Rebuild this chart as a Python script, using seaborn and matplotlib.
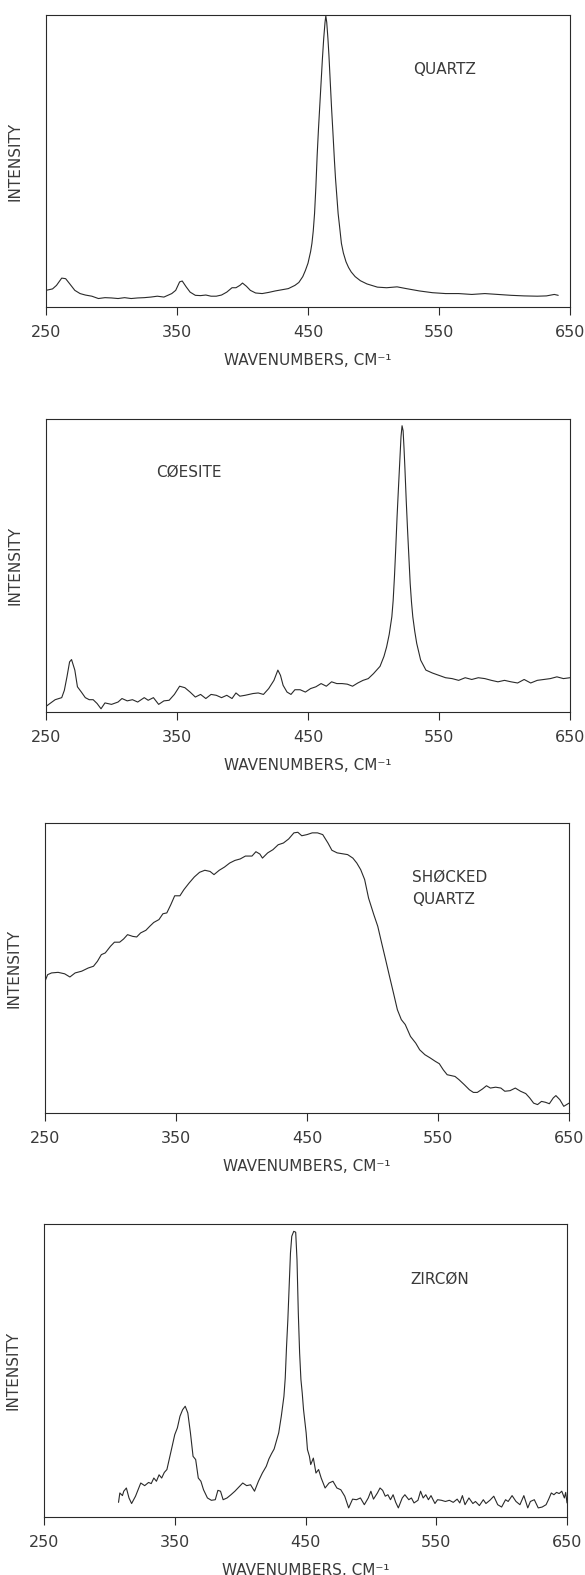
import numpy as np
import pandas as pd
import matplotlib
matplotlib.use("Agg")
import matplotlib.pyplot as plt
import seaborn as sns

# ---------------- data (intensity as fraction of plot height) ----------------
quartz_x = [250,255,258,262,265,268,272,276,280,285,
            290,295,300,305,310,315,320,325,330,335,
            340,343,346,349,352,354,357,360,364,368,
            372,376,380,384,388,392,395,398,400,403,
            406,410,415,420,425,430,435,440,443,446,
            448,450,452,453,454,455,456,457,458,459,
            460,461,462,463,463.6,464.3,465.2,466,467,468,
            469,470.2,471,472,473,474,475.5,477,479,481,
            483,486,490,495,503,510,518,525,535,545,
            555,565,575,585,595,605,615,625,632,638,
            641]
quartz_y = [0.057,0.062,0.074,0.099,0.097,0.080,0.057,0.046,0.041,0.037,
            0.029,0.032,0.031,0.029,0.032,0.029,0.031,0.032,0.034,0.037,
            0.034,0.040,0.046,0.057,0.086,0.089,0.069,0.051,0.040,0.039,
            0.041,0.037,0.037,0.041,0.051,0.066,0.066,0.074,0.082,0.071,
            0.057,0.048,0.046,0.050,0.055,0.059,0.063,0.074,0.084,0.104,
            0.125,0.150,0.190,0.218,0.260,0.320,0.410,0.520,0.610,0.690,
            0.770,0.850,0.920,0.975,0.997,0.975,0.920,0.860,0.770,0.680,
            0.600,0.500,0.440,0.380,0.320,0.280,0.218,0.185,0.155,0.135,
            0.120,0.104,0.090,0.079,0.068,0.066,0.069,0.063,0.055,0.049,
            0.046,0.046,0.043,0.046,0.043,0.040,0.038,0.037,0.038,0.043,
            0.040]

coesite_x = [250,253,257,262,264,266,268,269.5,272,274,
             277,280,283,286,289,292,295,300,305,308,
             312,316,320,325,328,332,336,340,344,348,
             352,356,360,364,368,372,376,380,384,388,
             392,395,398,402,408,412,416,420,424,427,
             429,431,434,437,440,444,448,452,456,460,
             464,468,472,476,480,484,488,492,496,500,
             505,508,510,512,514,515,516,517,518,519,
             520,521,521.8,522.6,523.3,524,525,526,527,528,
             529,530,531.5,533,536,540,
             545,550,555,560,565,570,575,580,585,590,
             595,600,605,610,615,620,625,630,635,640,
             645,650]
coesite_y = [0.019,0.029,0.042,0.049,0.074,0.120,0.171,0.179,0.143,0.086,
             0.068,0.049,0.042,0.042,0.029,0.011,0.031,0.026,0.034,0.046,
             0.038,0.042,0.034,0.049,0.040,0.049,0.026,0.038,0.040,0.060,
             0.088,0.083,0.068,0.051,0.060,0.046,0.060,0.057,0.049,0.057,
             0.046,0.065,0.054,0.057,0.063,0.065,0.060,0.080,0.108,0.143,
             0.125,0.091,0.068,0.060,0.076,0.076,0.068,0.080,0.086,0.097,
             0.088,0.103,0.097,0.097,0.095,0.088,0.099,0.108,0.114,0.131,
             0.156,0.190,0.222,0.265,0.325,0.380,0.462,0.560,0.667,0.760,
             0.850,0.940,0.977,0.960,0.900,0.830,0.720,0.621,0.530,0.439,
             0.375,0.325,0.275,0.234,0.177,0.143,
             0.133,0.125,0.117,0.114,0.108,0.117,0.111,0.117,0.114,0.108,
             0.103,0.108,0.103,0.099,0.111,0.099,0.108,0.111,0.114,0.120,
             0.114,0.117]

shocked_x = [250,252,255,260,265,269,273,278,283,287,
             290,293,296,300,303,307,310,313,317,320,
             323,327,330,333,337,340,343,346,349,353,
             356,360,364,368,372,376,379,383,387,391,
             395,399,403,408,411,414,416,420,424,428,
             432,436,440,443,446,450,454,458,462,466,
             469,473,477,481,485,488,491,494,497,501,
             504,507,510,513,516,519,522,525,529,533,
             536,540,544,548,551,554,557,560,563,566,
             570,574,577,580,584,587,590,594,598,601,
             605,609,613,617,620,623,626,629,632,635,
             638,640,643,646,650]
shocked_y = [0.454,0.477,0.483,0.485,0.480,0.469,0.483,0.489,0.500,0.506,
             0.523,0.546,0.552,0.575,0.589,0.589,0.600,0.615,0.609,0.607,
             0.621,0.630,0.644,0.657,0.667,0.687,0.690,0.718,0.749,0.749,
             0.770,0.793,0.814,0.830,0.837,0.833,0.822,0.837,0.848,0.862,
             0.871,0.876,0.886,0.886,0.901,0.893,0.879,0.897,0.908,0.925,
             0.931,0.945,0.966,0.968,0.956,0.960,0.966,0.966,0.960,0.931,
             0.906,0.897,0.894,0.891,0.879,0.862,0.839,0.805,0.741,0.684,
             0.644,0.586,0.529,0.471,0.414,0.356,0.322,0.305,0.264,0.241,
             0.218,0.201,0.190,0.178,0.170,0.149,0.132,0.129,0.126,0.115,
             0.098,0.080,0.071,0.071,0.083,0.094,0.086,0.089,0.086,0.075,
             0.077,0.086,0.075,0.067,0.052,0.034,0.029,0.040,0.037,0.032,
             0.052,0.060,0.046,0.023,0.034]

zircon_x = [307,308,310,311,313,315,317,320,322,324,
            327,330,332,334,336,338,340,342,344,346,
            348,350,352,354,356,358,359,360,362,364,
            366,368,370,372,375,378,381,383,385,387,
            390,393,396,399,402,405,408,411,414,417,
            420,422,424,426,429.5,431.5,433.5,434.5,435.5,436.5,
            437.5,438.5,439.5,441,442.5,443.5,444.5,445.5,446.5,447.5,
            448.5,450.5,451.5,453,454,456,458,460,462,465,
            468,471,474,477,480,483,486,489,492,495,
            498,500,502,505,507,509,511,513,515,517,
            519,521,524,526,529,531,533,536,538,540,
            542,544,546,549,551,554,557,560,563,566,
            568,570,572,575,578,580,583,586,588,591,
            594,597,600,603,605,608,611,614,617,620,
            622,625,628,631,634,636,638,640,642,644,
            646,648,649,650]
zircon_y = [0.050,0.082,0.073,0.088,0.099,0.065,0.046,0.071,0.093,0.116,
            0.107,0.118,0.114,0.133,0.122,0.144,0.133,0.152,0.162,0.201,
            0.241,0.281,0.304,0.344,0.366,0.378,0.366,0.355,0.287,0.207,
            0.196,0.133,0.122,0.093,0.065,0.057,0.059,0.091,0.088,0.059,
            0.065,0.076,0.088,0.102,0.116,0.107,0.110,0.088,0.122,0.150,
            0.173,0.198,0.216,0.232,0.287,0.344,0.412,0.474,0.582,0.673,
            0.787,0.901,0.958,0.975,0.972,0.878,0.696,0.560,0.469,0.423,
            0.366,0.287,0.230,0.207,0.179,0.201,0.150,0.162,0.133,0.099,
            0.116,0.122,0.099,0.093,0.071,0.031,0.061,0.059,0.065,0.042,
            0.065,0.088,0.061,0.082,0.099,0.091,0.071,0.076,0.059,0.076,
            0.050,0.031,0.065,0.076,0.059,0.065,0.048,0.057,0.088,0.065,
            0.076,0.059,0.073,0.046,0.059,0.057,0.053,0.057,0.050,0.061,
            0.048,0.073,0.042,0.065,0.046,0.053,0.039,0.059,0.046,0.057,
            0.071,0.042,0.034,0.059,0.053,0.073,0.053,0.042,0.073,0.031,
            0.053,0.059,0.031,0.034,0.042,0.061,0.082,0.076,0.084,0.080,
            0.088,0.065,0.084,0.048]

panel_names = ["QUARTZ", "CØESITE", "SHØCKED\nQUARTZ", "ZIRCØN"]
xticks = [250, 350, 450, 550, 650]
xlabel = "WAVENUMBERS, CM⁻¹"
ylabel = "INTENSITY"

# ---------------- layout ----------------
sns.set_theme(style="white")
plt.rcParams["font.family"] = ["DejaVu Sans"]
W, H = 585, 1575
fig = plt.figure(figsize=(W / 100, H / 100), dpi=100)
fig.patch.set_facecolor("white")

# (left, right, top, bottom) in pixels
boxes = [(46, 570, 15, 307), (46, 570, 419, 712), (45, 569, 823, 1113), (44, 567, 1224, 1517)]
label_pos = [(0.70, 0.815), (0.21, 0.82), (0.70, 0.775), (0.70, 0.81)]
series = [(quartz_x, quartz_y), (coesite_x, coesite_y), (shocked_x, shocked_y), (zircon_x, zircon_y)]

ink = "#2a2a2a"
txt = "#3a3a3a"
for (l, r, t, b), (xs, ys), name, (lx, ly) in zip(boxes, series, panel_names, label_pos):
    ax = fig.add_axes([l / W, 1 - b / H, (r - l) / W, (b - t) / H])
    df = pd.DataFrame({"wavenumber": xs, "intensity": ys})
    sns.lineplot(data=df, x="wavenumber", y="intensity", ax=ax, color=ink,
                 linewidth=0.8, estimator=None, sort=False)
    ax.set_xlim(250, 650)
    ax.set_ylim(0, 1)
    ax.set_xticks(xticks)
    ax.set_xticklabels([str(v) for v in xticks], fontsize=11.5, color=txt)
    ax.set_yticks([])
    ax.tick_params(axis="x", direction="out", length=6, width=0.8, color=ink, pad=7, bottom=True)
    for sp in ax.spines.values():
        sp.set_visible(True)
        sp.set_color(ink)
        sp.set_linewidth(0.8)
    ax.set_xlabel(xlabel, fontsize=11, color=txt, labelpad=9)
    ax.set_ylabel(ylabel, fontsize=11, color=txt)
    ax.yaxis.set_label_coords(-0.044, 0.5)
    ax.text(lx, ly, name, transform=ax.transAxes, fontsize=11, color=txt,
            ha="left", va="center", linespacing=1.6)
    ax.set_facecolor("white")

fig.savefig("out.png", dpi=100, facecolor="white")
